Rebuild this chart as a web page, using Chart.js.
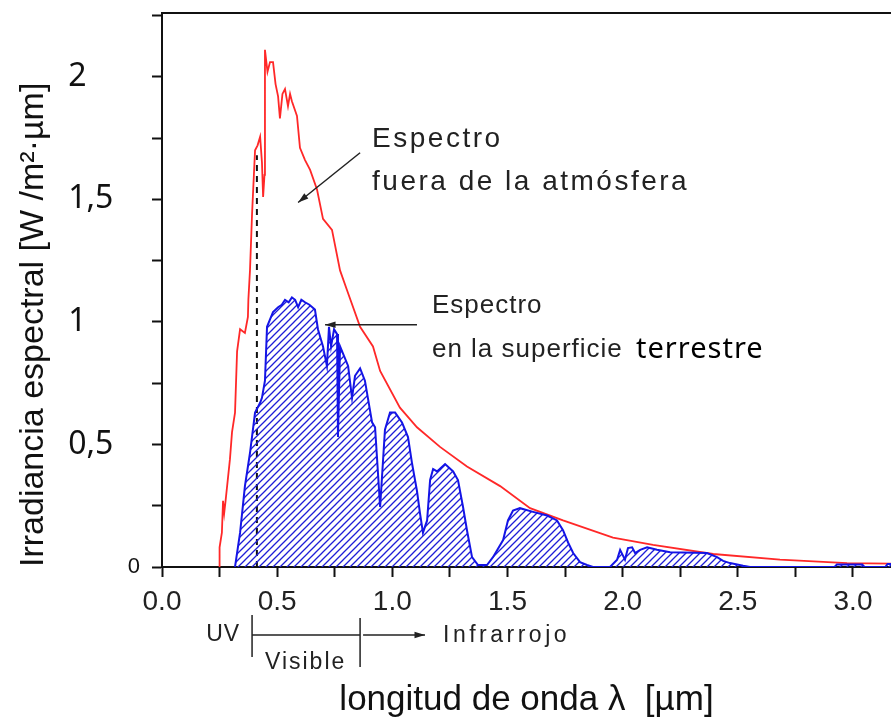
<!DOCTYPE html>
<html>
<head>
<meta charset="utf-8">
<script src="https://cdn.jsdelivr.net/npm/chart.js@4.4.1/dist/chart.umd.min.js"></script>
<style>
    html, body { margin: 0; padding: 0; background: #fff; }
    canvas { display: block; }
</style>
</head>
<body>
<canvas id="js--chart-espectro" width="891" height="722"></canvas>
<script>
// Espectro fuera de la atmósfera (rojo)
const redWl = [0.248, 0.250, 0.260, 0.265, 0.270, 0.276, 0.295, 0.304, 0.317, 0.326, 0.339, 0.360, 0.373, 0.375, 0.382,
    0.391, 0.404, 0.415, 0.426, 0.434, 0.439, 0.445, 0.447, 0.458, 0.469, 0.482, 0.493, 0.504, 0.512, 0.523, 0.534,
    0.547, 0.556, 0.564, 0.586, 0.599, 0.621, 0.643, 0.673, 0.699, 0.738, 0.773, 0.803, 0.860, 0.916, 0.947, 1.033,
    1.107, 1.207, 1.324, 1.468, 1.598, 1.741, 1.958, 2.132, 2.393, 2.683, 2.974, 3.165];
const redIrr = [0, 0.08, 0.14, 0.27, 0.22, 0.27, 0.44, 0.55, 0.63, 0.88, 0.97, 0.955, 1.02, 1.09, 1.21,
    1.44, 1.70, 1.72, 1.755, 1.65, 1.51, 1.60, 2.11, 2.02, 2.06, 2.06, 1.97, 1.92, 1.83, 1.93, 1.95,
    1.88, 1.93, 1.90, 1.84, 1.71, 1.66, 1.62, 1.54, 1.42, 1.375, 1.21, 1.13, 0.98, 0.90, 0.80, 0.65,
    0.57, 0.49, 0.41, 0.33, 0.24, 0.19, 0.12, 0.09, 0.053, 0.03, 0.016, 0.014];

// Espectro en la superficie terrestre (azul, rayado)
const blueWl = [0.317, 0.339, 0.360, 0.382, 0.404, 0.426, 0.434, 0.447, 0.456, 0.469, 0.482, 0.504, 0.520, 0.534,
    0.550, 0.564, 0.578, 0.591, 0.605, 0.621, 0.640, 0.664, 0.677, 0.699, 0.716, 0.725, 0.734, 0.747, 0.760, 0.764,
    0.773, 0.786, 0.808, 0.825, 0.838, 0.860, 0.881, 0.912, 0.925, 0.947, 0.968, 0.990, 1.012, 1.042, 1.068, 1.086,
    1.107, 1.120, 1.133, 1.151, 1.164, 1.177, 1.194, 1.229, 1.264, 1.285, 1.307, 1.324, 1.346, 1.372, 1.411, 1.437,
    1.481, 1.502, 1.524, 1.554, 1.611, 1.672, 1.715, 1.741, 1.763, 1.785, 1.815, 1.845, 1.871, 1.945, 1.976, 1.989,
    2.010, 2.023, 2.041, 2.054, 2.076, 2.106, 2.149, 2.206, 2.366, 2.410, 2.436, 2.466, 2.523, 2.553, 2.920, 2.930,
    3.040, 3.050, 3.140, 3.150, 3.165];
const blueIrr = [0, 0.14, 0.33, 0.465, 0.63, 0.67, 0.69, 0.76, 0.98, 1.01, 1.04, 1.06, 1.07, 1.09,
    1.08, 1.10, 1.09, 1.06, 1.09, 1.08, 1.07, 1.05, 0.97, 0.90, 0.82, 0.98, 0.90, 0.97, 0.95, 0.53,
    0.90, 0.87, 0.82, 0.69, 0.78, 0.81, 0.76, 0.59, 0.57, 0.245, 0.56, 0.63, 0.63, 0.59, 0.53, 0.42,
    0.31, 0.22, 0.14, 0.19, 0.355, 0.40, 0.39, 0.42, 0.39, 0.355, 0.245, 0.15, 0.04, 0.008, 0.008, 0.04,
    0.11, 0.19, 0.23, 0.24, 0.225, 0.21, 0.19, 0.15, 0.10, 0.057, 0.02, 0.008, 0, 0, 0.03, 0.07,
    0.03, 0.077, 0.08, 0.057, 0.07, 0.08, 0.07, 0.06, 0.057, 0.04, 0.025, 0.016, 0.005, 0, 0, 0.01,
    0.01, 0, 0, 0.012, 0.012];

// Límite UV / visible (línea discontinua)
const uvLineWl = [0.412, 0.412];
const uvLineIrr = [0, 1.68];

// Etiquetas de los ejes
const xLabels = ['0.0', '0.5', '1.0', '1.5', '2.0', '2.5', '3.0'];
const yLabels = ['0', '0,5', '1', '1,5', '2'];

const toPoints = (xs, ys) => xs.map((x, i) => ({ x: x, y: ys[i] }));

// patrón de rayado azul
function makeHatch() {
    const c = document.createElement('canvas');
    c.width = 7;
    c.height = 7;
    const g = c.getContext('2d');
    g.strokeStyle = 'rgb(30,30,215)';
    g.lineWidth = 1.3;
    g.beginPath();
    g.moveTo(0, 7); g.lineTo(7, 0);
    g.moveTo(-1, 1); g.lineTo(1, -1);
    g.moveTo(6, 8); g.lineTo(8, 6);
    g.stroke();
    return g.createPattern(c, 'repeat');
}

function arrow(ctx, x1, y1, x2, y2) {
    const a = Math.atan2(y2 - y1, x2 - x1);
    ctx.beginPath();
    ctx.moveTo(x1, y1);
    ctx.lineTo(x2, y2);
    ctx.stroke();
    ctx.beginPath();
    ctx.moveTo(x2, y2);
    ctx.lineTo(x2 - 11 * Math.cos(a - 0.3), y2 - 11 * Math.sin(a - 0.3));
    ctx.lineTo(x2 - 11 * Math.cos(a + 0.3), y2 - 11 * Math.sin(a + 0.3));
    ctx.closePath();
    ctx.fill();
}

const notesPlugin = {
    id: 'notes',
    afterDraw(chart) {
        const ctx = chart.ctx;
        const xs = chart.scales.x;
        const ys = chart.scales.y;
        const area = chart.chartArea;
        const X = v => xs.getPixelForValue(v);
        const Y = v => ys.getPixelForValue(v);
        ctx.save();
        // marco superior
        ctx.strokeStyle = '#111';
        ctx.lineWidth = 2;
        ctx.beginPath();
        ctx.moveTo(area.left, area.top);
        ctx.lineTo(area.right, area.top);
        ctx.stroke();

        ctx.fillStyle = '#222';
        ctx.textBaseline = 'middle';
        ctx.textAlign = 'left';
        ctx.letterSpacing = '2.5px';
        ctx.font = '28px "Liberation Sans", Arial, sans-serif';
        ctx.fillText('Espectro', X(0.912), Y(1.743));
        ctx.fillText('fuera de la atmósfera', X(0.912), Y(1.571));
        ctx.letterSpacing = '1px';
        ctx.font = '26px "Liberation Sans", Arial, sans-serif';
        ctx.fillText('Espectro', X(1.172), Y(1.065));
        ctx.fillText('en la superficie', X(1.172), Y(0.886));
        ctx.fillStyle = '#000';
        ctx.font = '29px "Noto Sans", sans-serif';
        ctx.fillText('terrestre', X(2.058), Y(0.886));

        ctx.strokeStyle = '#222';
        ctx.fillStyle = '#222';
        ctx.lineWidth = 1.5;
        arrow(ctx, X(0.860), Y(1.69), X(0.591), Y(1.487));
        arrow(ctx, X(1.107), Y(0.988), X(0.708), Y(0.988));

        // UV | Visible | Infrarrojo
        const b = area.bottom;
        ctx.font = '23px "Liberation Sans", Arial, sans-serif';
        ctx.letterSpacing = '1px';
        ctx.textAlign = 'right';
        ctx.fillText('UV', X(0.339), b + 68);
        ctx.textAlign = 'left';
        ctx.letterSpacing = '2px';
        ctx.fillText('Visible', X(0.447), b + 96);
        ctx.letterSpacing = '3.5px';
        ctx.fillText('Infrarrojo', X(1.22), b + 69);
        ctx.beginPath();
        ctx.moveTo(X(0.391), b + 48); ctx.lineTo(X(0.391), b + 90);
        ctx.moveTo(X(0.391), b + 68); ctx.lineTo(X(0.86), b + 68);
        ctx.moveTo(X(0.86), b + 51); ctx.lineTo(X(0.86), b + 100);
        ctx.stroke();
        arrow(ctx, X(0.873), b + 68, X(1.142), b + 68);
        ctx.restore();
    }
};

const ctx = document.getElementById('js--chart-espectro').getContext('2d');
const bigFont = { family: '"Noto Sans", sans-serif', size: 32 };
const smallFont = { family: '"Liberation Sans", Arial, sans-serif', size: 22 };
const PAD = '\u2002\u2009\u2009';

const chart = new Chart(ctx, {
    type: 'line',
    data: {
        datasets: [{
            label: 'Espectro en la superficie terrestre',
            data: toPoints(blueWl, blueIrr),
            borderColor: 'rgb(20,20,230)',
            borderWidth: 2,
            backgroundColor: makeHatch(),
            fill: 'origin',
            pointRadius: 0,
            tension: 0
        }, {
            label: 'Espectro fuera de la atmósfera',
            data: toPoints(redWl, redIrr),
            borderColor: 'rgb(255,40,40)',
            borderWidth: 1.8,
            fill: false,
            pointRadius: 0,
            tension: 0
        }, {
            label: 'UV',
            data: toPoints(uvLineWl, uvLineIrr),
            borderColor: '#111',
            borderWidth: 2,
            borderDash: [6, 5],
            fill: false,
            pointRadius: 0
        }]
    },
    options: {
        responsive: false,
        animation: false,
        devicePixelRatio: 1,
        layout: { padding: { top: 13, right: 0, bottom: 0, left: 0 } },
        plugins: {
            legend: { display: false },
            tooltip: { enabled: false }
        },
        scales: {
            x: {
                type: 'linear',
                min: 0,
                max: 3.165,
                afterFit(scale) {
                    scale.height = 155;
                    scale.paddingLeft = 0;
                    scale.paddingRight = 0;
                },
                border: { color: '#111', width: 2 },
                grid: { drawOnChartArea: false, tickLength: 10, tickColor: '#111', tickWidth: 2 },
                ticks: {
                    stepSize: 0.25,
                    includeBounds: false,
                    maxRotation: 0,
                    autoSkip: false,
                    padding: 8,
                    color: '#222',
                    font: { family: '"Liberation Sans", Arial, sans-serif', size: 28 },
                    callback: v => {
                        const i = Math.round(v / 0.5);
                        return Math.abs(v - i * 0.5) < 1e-6 ? (xLabels[i] || '') : '';
                    }
                },
                title: {
                    display: true,
                    text: 'longitud de onda λ  [µm]',
                    color: '#111',
                    font: { family: '"Liberation Sans", Arial, sans-serif', size: 35 },
                    padding: { top: 0, bottom: 1 }
                }
            },
            y: {
                type: 'linear',
                min: 0,
                max: 2.26,
                afterFit(scale) {
                    scale.width = 162;
                    scale.paddingTop = 0;
                    scale.paddingBottom = 0;
                },
                border: { color: '#111', width: 2 },
                grid: { drawOnChartArea: false, tickLength: 10, tickColor: '#111', tickWidth: 2 },
                ticks: {
                    stepSize: 0.25,
                    includeBounds: false,
                    autoSkip: false,
                    padding: 12,
                    color: '#111',
                    font: c => (c.tick && c.tick.value === 0 ? smallFont : bigFont),
                    callback: v => {
                        const i = Math.round(v / 0.5);
                        if (Math.abs(v - i * 0.5) > 1e-6 || !yLabels[i]) return '';
                        if (i === 0) return yLabels[0];
                        const lab = yLabels[i];
                        return lab.length === 1 ? lab + '\u2008\u2007' + PAD : lab + PAD;
                    }
                },
                title: {
                    display: true,
                    text: 'Irradiancia espectral [W /m²·µm]',
                    align: 'start',
                    color: '#111',
                    font: { family: '"Liberation Sans", Arial, sans-serif', size: 34 },
                    padding: { top: 13, bottom: 0 }
                }
            }
        }
    },
    plugins: [notesPlugin]
});
</script>
</body>
</html>
